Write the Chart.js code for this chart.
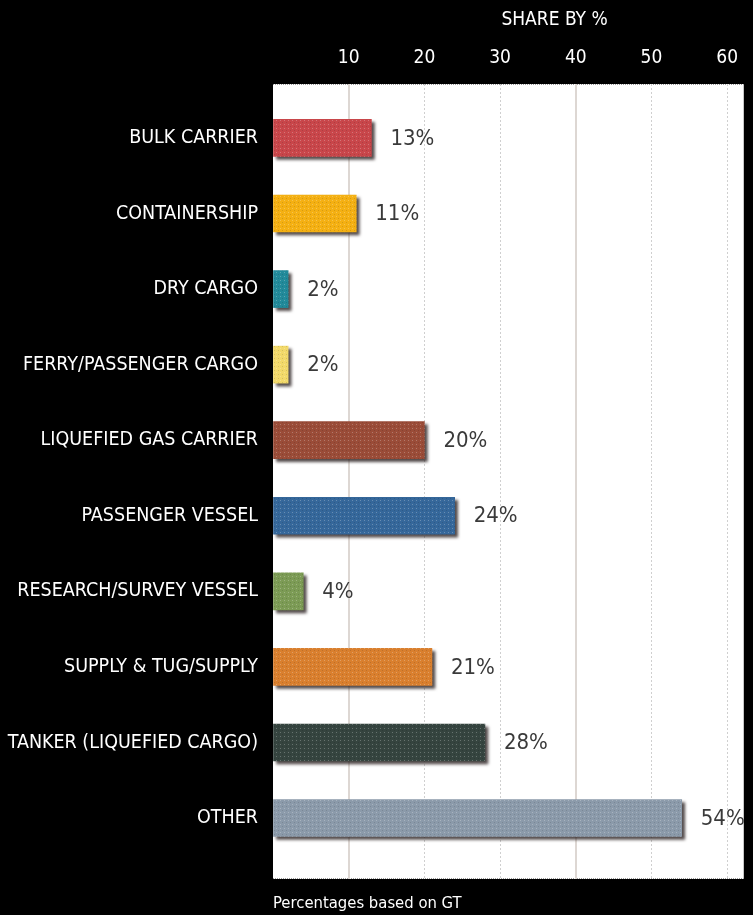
<!DOCTYPE html>
<html>
<head>
<meta charset="utf-8">
<script src="https://cdn.jsdelivr.net/npm/chart.js@4"></script>
<style>
  body { margin: 0; background: #000; }
  #wrap { width: 753px; height: 915px; }
</style>
</head>
<body>
<div id="wrap"><canvas id="share-chart"></canvas></div>
<script>
var categories = [
  "BULK CARRIER",
  "CONTAINERSHIP",
  "DRY CARGO",
  "FERRY/PASSENGER CARGO",
  "LIQUEFIED GAS CARRIER",
  "PASSENGER VESSEL",
  "RESEARCH/SURVEY VESSEL",
  "SUPPLY & TUG/SUPPLY",
  "TANKER (LIQUEFIED CARGO)",
  "OTHER"
];
var shares = [13, 11, 2, 2, 20, 24, 4, 21, 28, 54];
var barColors = [
  "#c8464a",
  "#f4b013",
  "#228a9a",
  "#f2d96a",
  "#9a4c38",
  "#35679a",
  "#7c9b55",
  "#d97f2e",
  "#35443f",
  "#8b9aaa"
];
var xTicks = [10, 20, 30, 40, 50, 60];
var solidGrid = [10, 40];

var narrow = "'Liberation Sans Narrow', 'DejaVu Sans Condensed', 'Arial Narrow', sans-serif";

var canvas = document.getElementById("share-chart");
var ctx2d = canvas.getContext("2d");

// dotted print-style texture for each bar
function dotted(color) {
  var c = document.createElement("canvas");
  c.width = 4;
  c.height = 4;
  var g = c.getContext("2d");
  g.fillStyle = color;
  g.fillRect(0, 0, 4, 4);
  g.fillStyle = "rgba(255,255,255,0.25)";
  g.fillRect(0, 0, 1, 1);
  g.fillStyle = "rgba(0,0,0,0.12)";
  g.fillRect(2, 2, 1, 1);
  return ctx2d.createPattern(c, "repeat");
}

var points = shares.map(function (v, i) { return { x: v, y: i }; });

var plotBackground = {
  id: "plotBackground",
  beforeDraw: function (chart) {
    var a = chart.chartArea, ctx = chart.ctx;
    ctx.save();
    ctx.fillStyle = "#fff";
    ctx.fillRect(a.left, a.top, a.right - a.left, a.bottom - a.top);
    ctx.strokeStyle = "#9a9a9a";
    ctx.setLineDash([1, 1]);
    ctx.beginPath();
    ctx.moveTo(a.left, a.top + 0.5);
    ctx.lineTo(a.right, a.top + 0.5);
    ctx.moveTo(a.left, a.bottom - 0.5);
    ctx.lineTo(a.right, a.bottom - 0.5);
    ctx.stroke();
    ctx.restore();
  }
};

var barShadow = {
  id: "barShadow",
  beforeDatasetDraw: function (chart) {
    var ctx = chart.ctx;
    ctx.save();
    ctx.shadowColor = "rgba(40,30,30,0.8)";
    ctx.shadowOffsetX = 3;
    ctx.shadowOffsetY = 3;
    ctx.shadowBlur = 3;
  },
  afterDatasetDraw: function (chart) {
    chart.ctx.restore();
  }
};

var valueLabels = {
  id: "valueLabels",
  afterDatasetsDraw: function (chart) {
    var ctx = chart.ctx;
    var meta = chart.getDatasetMeta(0);
    ctx.save();
    ctx.font = "22px " + narrow;
    ctx.fillStyle = "#3a3a3a";
    ctx.textAlign = "left";
    ctx.textBaseline = "middle";
    meta.data.forEach(function (bar, i) {
      ctx.fillText(shares[i] + "%", bar.x + 19, bar.y + 1);
    });
    ctx.restore();
  }
};

var extraText = {
  id: "extraText",
  afterDraw: function (chart) {
    var a = chart.chartArea, ctx = chart.ctx;
    ctx.save();
    ctx.fillStyle = "#fff";
    ctx.textBaseline = "middle";
    ctx.font = "19px " + narrow;
    ctx.textAlign = "center";
    ctx.fillText("SHARE BY %", a.left + (a.right - a.left) * 0.598, 20);
    ctx.font = "16.5px " + narrow;
    ctx.textAlign = "left";
    ctx.fillText("Percentages based on GT", a.left, a.bottom + 25);
    ctx.restore();
  }
};

new Chart(canvas, {
  type: "bar",
  data: {
    datasets: [
      {
        label: "Share by %",
        data: points,
        backgroundColor: barColors.map(dotted),
        borderWidth: 0,
        barThickness: 37
      }
    ]
  },
  options: {
    indexAxis: "y",
    maintainAspectRatio: false,
    responsive: true,
    animation: false,
    layout: { padding: { top: 0, right: 0, bottom: 36, left: 0 } },
    plugins: {
      legend: { display: false },
      tooltip: { enabled: false },
      title: { display: false }
    },
    scales: {
      x: {
        type: "linear",
        position: "top",
        min: 0,
        max: 62.2,
        afterFit: function (s) { s.height = 84; },
        afterBuildTicks: function (s) {
          s.ticks = [0].concat(xTicks).map(function (v) { return { value: v }; });
        },
        grid: {
          drawTicks: false,
          color: function (c) {
            if (!c.tick || c.tick.value === 0) return "rgba(0,0,0,0)";
            return solidGrid.indexOf(c.tick.value) >= 0 ? "#ddd7d3" : "#cfcfcf";
          },
          lineWidth: function (c) {
            return c.tick && solidGrid.indexOf(c.tick.value) >= 0 ? 2 : 1;
          }
        },
        border: {
          display: false,
          dash: function (c) {
            return c.tick && solidGrid.indexOf(c.tick.value) >= 0 ? [] : [2, 2];
          }
        },
        ticks: {
          padding: 15,
          color: "#fff",
          font: { family: narrow, size: 19 },
          callback: function (v) { return v === 0 ? "" : v; }
        }
      },
      y: {
        type: "linear",
        reverse: true,
        offset: false,
        min: -0.714,
        max: 9.807,
        afterFit: function (s) { s.width = 273; },
        afterBuildTicks: function (s) {
          s.ticks = categories.map(function (c, i) { return { value: i }; });
        },
        grid: { display: false, drawTicks: false, offset: false },
        border: { display: false },
        ticks: {
          autoSkip: false,
          padding: 15,
          color: "#fff",
          font: { family: narrow, size: 19.5 },
          callback: function (v) { return categories[v] || ""; }
        }
      }
    }
  },
  plugins: [plotBackground, barShadow, valueLabels, extraText]
});
</script>
</body>
</html>
